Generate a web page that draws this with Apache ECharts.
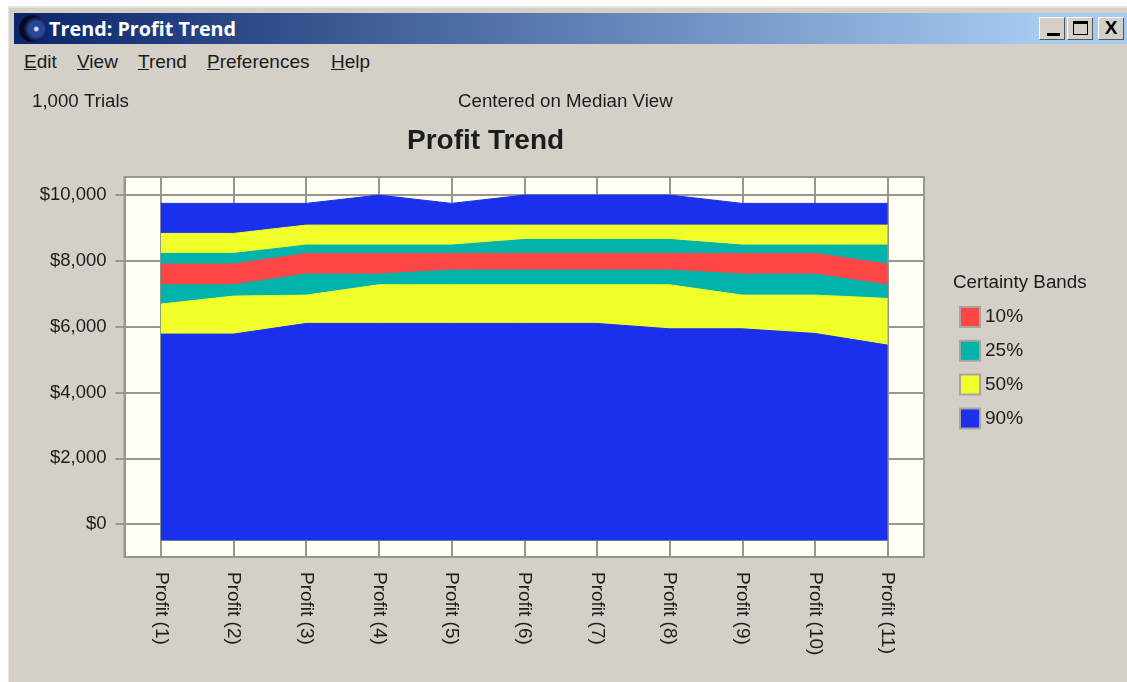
<!DOCTYPE html>
<html>
<head>
<meta charset="utf-8">
<title>Trend: Profit Trend</title>
<script src="https://cdn.jsdelivr.net/npm/echarts@6/dist/echarts.min.js"></script>
<style>
  html, body { margin: 0; padding: 0; background: #fff; }
  #win { position: absolute; left: 8px; top: 6px; width: 1119px; height: 676px; background: #d4d0c8; border-left: 1px solid #e8e6e0; border-top: 2px solid #e8e6e0; box-sizing: border-box; overflow: hidden; font-family: "Liberation Sans", Arial, sans-serif; }
  #titlebar { position: absolute; left: 5px; top: 5px; right: 0; height: 31px; background: linear-gradient(to right, #0a246a, #a6caf0 92%); color: #fff; font: bold 19.8px "Open Sans", "Liberation Sans", sans-serif; line-height: 31px; }
  #titlebar span { position: absolute; left: 35px; top: 0; white-space: nowrap; }
  #logo { position: absolute; left: 5px; top: 2px; width: 27px; height: 27px; border-radius: 50%; background: radial-gradient(circle at 64% 52%, #dfe8ff 0 6%, #27489a 14% 34%, #050a20 58%); }
  .btn { position: absolute; top: 4px; width: 26px; height: 23px; background: #d4d0c8; box-sizing: border-box; border: 1px solid; border-color: #fff #555 #555 #fff; color: #000; text-align: center; font: bold 19px/20px "Liberation Sans", sans-serif; }
  #menu { position: absolute; top: 43px; left: 0; font-size: 19px; color: #1a1a1a; }
  #menu span { position: absolute; top: 0; white-space: nowrap; }
  #chart { position: absolute; left: 0; top: 0; width: 1127px; height: 682px; }
</style>
</head>
<body>
<div id="win">
  <div id="titlebar">
    <div id="logo"></div><span>Trend: Profit Trend</span>
    <div class="btn" style="left:1025px"><div style="position:absolute;left:7px;bottom:3px;width:13px;height:3px;background:#000"></div></div>
    <div class="btn" style="left:1053px"><div style="position:absolute;left:5px;top:3px;width:15px;height:14px;border:1px solid #000;border-top-width:3px;box-sizing:border-box"></div></div>
    <div class="btn" style="left:1084px">X</div>
  </div>
  <div id="menu">
    <span style="left:15px"><u>E</u>dit</span>
    <span style="left:68px"><u>V</u>iew</span>
    <span style="left:129px"><u>T</u>rend</span>
    <span style="left:198px"><u>P</u>references</span>
    <span style="left:322px"><u>H</u>elp</span>
  </div>
</div>
<div id="chart"></div>
<script>
  const categories = ["Profit (1)", "Profit (2)", "Profit (3)", "Profit (4)", "Profit (5)", "Profit (6)", "Profit (7)", "Profit (8)", "Profit (9)", "Profit (10)", "Profit (11)"];
  const yTicks = [0, 2000, 4000, 6000, 8000, 10000];
  const bandFloor = -500;

  // band edges, top of the chart to the bottom
  const upper90 = [9748, 9748, 9748, 10000, 9748, 10000, 10000, 10000, 9748, 9748, 9748];
  const upper50 = [8835, 8835, 9088, 9088, 9088, 9088, 9088, 9088, 9088, 9088, 9088];
  const upper25 = [8227, 8227, 8480, 8480, 8480, 8650, 8650, 8650, 8480, 8480, 8480];
  const upper10 = [7903, 7903, 8227, 8227, 8227, 8227, 8227, 8227, 8227, 8227, 7903];
  const lower10 = [7274, 7274, 7598, 7598, 7720, 7720, 7720, 7720, 7598, 7598, 7274];
  const lower25 = [6687, 6930, 6960, 7274, 7274, 7274, 7274, 7274, 6960, 6960, 6860];
  const lower50 = [5775, 5775, 6100, 6100, 6100, 6100, 6100, 5936, 5936, 5795, 5440];

  const colors = { "10%": "#fe4646", "25%": "#00b4ac", "50%": "#f0ff2a", "90%": "#1a30ec" };
  const textColor = "#1c1c1c";
  const gridColor = "#979790";

  const makeLayer = (name, data) => ({
    name: name,
    type: "line",
    data: data,
    symbol: "none",
    silent: true,
    itemStyle: { color: colors[name] },
    lineStyle: { color: colors[name], width: 1 },
    areaStyle: { color: colors[name], opacity: 1, origin: bandFloor },
  });

  const myChart = echarts.init(document.getElementById("chart"), null, { renderer: "canvas" });
  myChart.setOption({
    animation: false,
    backgroundColor: "transparent",
    textStyle: { fontFamily: "Liberation Sans", color: textColor },
    title: {
      text: "Profit Trend",
      left: 402,
      top: 122,
      textStyle: { fontSize: 28, fontWeight: "bold", color: textColor, fontFamily: "Liberation Sans" },
    },
    grid: {
      left: 124.5,
      top: 177,
      width: 799.5,
      height: 380,
      show: true,
      backgroundColor: "#fffff3",
      borderColor: gridColor,
      borderWidth: 2,
    },
    legend: {
      data: ["10%", "25%", "50%", "90%"],
      orient: "vertical",
      left: 954,
      top: 301,
      icon: "rect",
      itemWidth: 20,
      itemHeight: 20,
      itemGap: 11.8,
      selectedMode: false,
      itemStyle: { borderColor: "#a8a59e", borderWidth: 2 },
      textStyle: { fontSize: 19, color: textColor, fontFamily: "Liberation Sans" },
    },
    xAxis: {
      type: "category",
      data: categories,
      boundaryGap: true,
      axisLine: { lineStyle: { color: gridColor, width: 2 } },
      axisTick: { alignWithLabel: true, length: 9, lineStyle: { color: gridColor, width: 2 } },
      splitLine: { show: true, alignWithLabel: true, lineStyle: { color: gridColor, width: 2 } },
      axisLabel: { rotate: -90, interval: 0, margin: 15, fontSize: 19, color: textColor, fontFamily: "Liberation Sans" },
    },
    yAxis: {
      type: "value",
      min: -1000,
      max: 10550,
      axisLine: { show: true, lineStyle: { color: gridColor, width: 2 } },
      axisTick: { show: true, customValues: yTicks, length: 9, lineStyle: { color: gridColor, width: 2 } },
      splitLine: { show: true, lineStyle: { color: gridColor, width: 2 } },
      axisLabel: {
        customValues: yTicks,
        margin: 18,
        padding: [4, 0, 0, 0],
        fontSize: 18.5,
        color: textColor,
        fontFamily: "Liberation Sans",
        formatter: (v) => "$" + v.toLocaleString("en-US"),
      },
    },
    graphic: [
      { type: "text", left: 32, top: 92, style: { text: "1,000 Trials", font: '18.7px "Liberation Sans"', fill: textColor } },
      { type: "text", left: 458, top: 92, style: { text: "Centered on Median View", font: '18.7px "Liberation Sans"', fill: textColor } },
      { type: "text", left: 953, top: 273, style: { text: "Certainty Bands", font: '18.8px "Liberation Sans"', fill: textColor } },
    ],
    series: [
      makeLayer("90%", upper90),
      makeLayer("50%", upper50),
      makeLayer("25%", upper25),
      makeLayer("10%", upper10),
      makeLayer("25%", lower10),
      makeLayer("50%", lower25),
      makeLayer("90%", lower50),
    ],
  });
</script>
</body>
</html>
